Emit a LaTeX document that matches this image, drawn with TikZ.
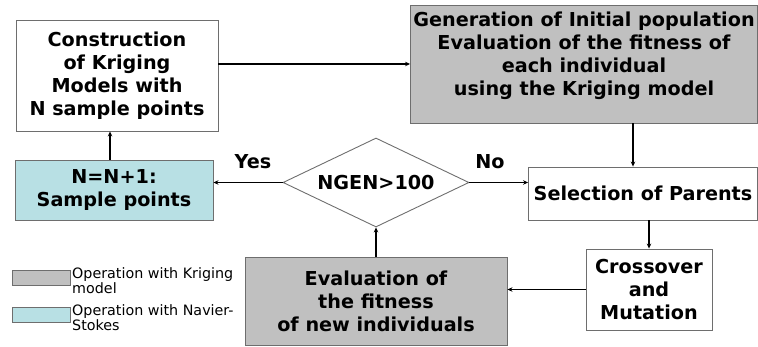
\documentclass[tikz,border=0pt]{standalone}
\usepackage{fontspec}
\setmainfont{DejaVu Sans}
\usetikzlibrary{shapes.geometric,arrows.meta}
\definecolor{kgrey}{RGB}{192,192,192}
\definecolor{ncyan}{RGB}{184,224,228}
\definecolor{bord}{RGB}{110,110,110}
\begin{document}
\begin{tikzpicture}[x=1pt,y=-1pt,
  box/.style={draw=bord,line width=0.9pt,rectangle,inner sep=0pt,align=center,
    font=\fontsize{19.2}{23}\selectfont\bfseries},
  arr/.style={line width=1.6pt,-{Stealth[length=5pt,width=4.5pt]}},
  lab/.style={font=\fontsize{19.2}{23}\selectfont\bfseries,inner sep=0pt},
  leg/.style={font=\fontsize{14.3}{15}\selectfont,align=left,anchor=west,inner sep=0pt},
  legbox/.style={draw=bord,line width=0.9pt}]
\useasboundingbox (0,0) rectangle (758,347);
\node[box,minimum width=202pt,minimum height=111pt] (A) at (117,75.5)
  {Construction\\of Kriging\\Models with\\N sample points};
\node[box,fill=kgrey,minimum width=347pt,minimum height=118pt,text depth=21pt] (B) at (584,64)
  {Generation of Initial population\\Evaluation of the fitness of\\each individual\\using the Kriging model};
\node[box,minimum width=229pt,minimum height=53pt] (S) at (643,193.5) {Selection of Parents};
\node[draw=bord,line width=0.9pt,diamond,aspect=2,inner sep=0pt,minimum width=186pt,minimum height=89pt,
  font=\fontsize{19.2}{23}\selectfont\bfseries] (D) at (376,182.5) {NGEN>100};
\node[box,fill=ncyan,minimum width=198pt,minimum height=60pt] (N) at (114,190) {N=N+1:\\Sample points};
\node[box,minimum width=126pt,minimum height=81pt] (C) at (649,289.5) {Crossover\\and\\Mutation};
\node[box,fill=kgrey,minimum width=262pt,minimum height=88pt] (E) at (376,301)
  {Evaluation of\\the fitness\\of new individuals};
\node[lab] (yes) at (253,162) {Yes};
\node[lab] (no) at (490,162) {No};
\draw[arr] (A.east |- B.west) -- (B.west);
\draw[arr] ([xshift=-10pt]S.north |- B.south) -- ([xshift=-10pt]S.north);
\draw[arr] (S.south -| C.north) -- (C.north);
\draw[arr] (C.west) -- (C.west -| E.east);
\draw[arr] (E.north) -- (D.south);
\draw[arr] (D.east) -- (D.east -| S.west);
\draw[arr] (D.west) -- (D.west -| N.east);
\draw[arr] ([xshift=-7pt]A.south |- N.north) -- ([xshift=-7pt]A.south);
\node[legbox,fill=kgrey,minimum width=58pt,minimum height=15pt,inner sep=0pt] (L1) at (41,277.5) {};
\node[legbox,fill=ncyan,minimum width=58pt,minimum height=15pt,inner sep=0pt] (L2) at (41,314.5) {};
\node[leg] (T1) at (72,281) {Operation with Kriging\\model};
\node[leg] (T2) at (72,318) {Operation with Navier-\\Stokes};
\end{tikzpicture}
\end{document}
